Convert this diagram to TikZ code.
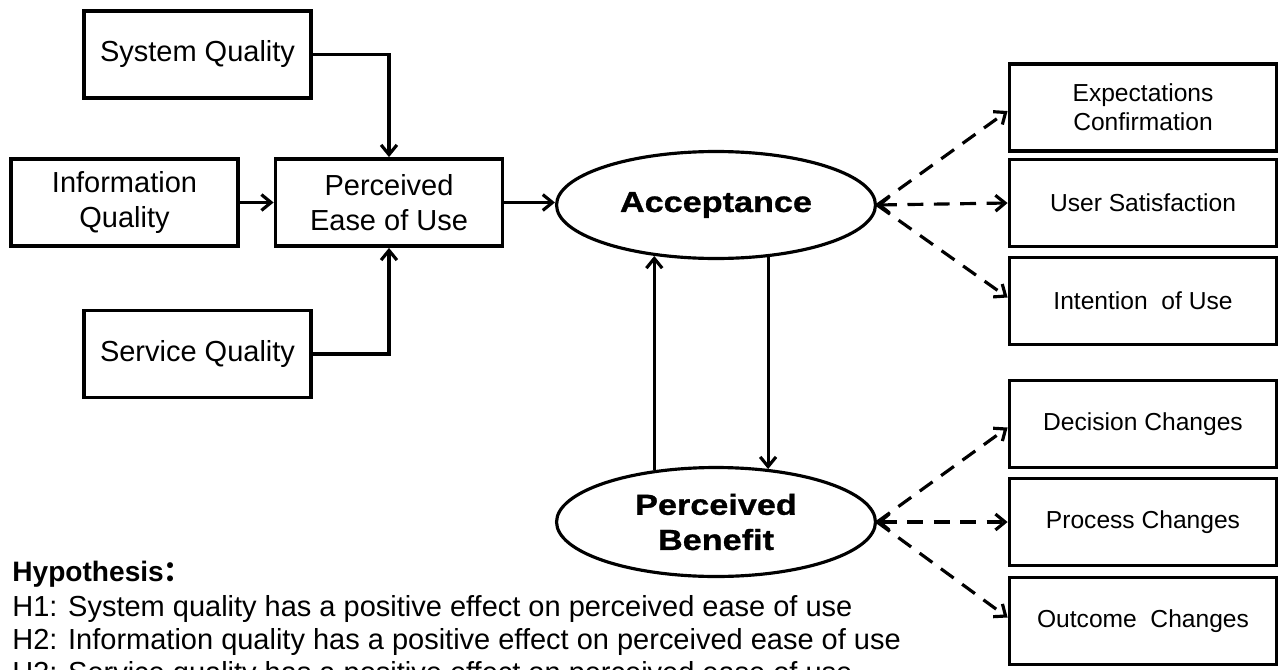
\documentclass[tikz,border=0pt]{standalone}
\usepackage{fontspec}
\setmainfont{Liberation Sans}
\newfontfamily\blackfont{Liberation Sans Bold}[FakeStretch=1.18,FakeBold=1]
\newfontfamily\cjkfont{Noto Sans CJK SC}
\usetikzlibrary{arrows.meta,shapes.geometric}
\begin{document}
\begin{tikzpicture}[x=0.02cm,y=-0.02cm,
  >={Straight Barb[length=5.5pt,width=9pt]},
  lbox/.style={draw,line width=2.2pt,minimum width=4.54cm,minimum height=1.74cm,inner sep=0pt,align=center,font=\fontsize{16.5}{20}\selectfont},
  rbox/.style={draw,line width=2.2pt,minimum width=5.34cm,minimum height=1.74cm,inner sep=0pt,align=center,font=\fontsize{14}{16.5}\selectfont},
  oval/.style={draw,ellipse,line width=1.8pt,inner sep=0pt,minimum width=6.38cm,align=center,font=\blackfont\fontsize{16.5}{20}\selectfont},
  link/.style={line width=1.8pt,->},
  dlink/.style={line width=1.8pt,->,dash pattern=on 9pt off 6pt},
  hyp/.style={anchor=base west,inner sep=0pt,font=\fontsize{16.5}{20}\selectfont}]
\useasboundingbox (0,0) rectangle (1280,669);
\clip (0,0) rectangle (1280,669);
% left boxes
\node[lbox] (sys) at (197.5,54.5) {System Quality};
\node[lbox] (info) at (124.5,202.5) {Information\\Quality};
\node[lbox] (peu) at (389,202.5) {Perceived\\Ease of Use};
\node[lbox] (serv) at (197.5,354) {Service Quality};
% ellipses
\node[oval,minimum height=2.14cm] (acc) at (716,205) {Acceptance};
\node[oval,minimum height=2.18cm] (pb) at (716,522) {Perceived\\Benefit};
% right boxes
\node[rbox] (exp) at (1143,107.5) {Expectations\\Confirmation};
\node[rbox] (us) at (1143,203) {User Satisfaction};
\node[rbox] (int) at (1143,301) {Intention\ \ of Use};
\node[rbox] (dec) at (1143,424) {Decision Changes};
\node[rbox] (proc) at (1143,522) {Process Changes};
\node[rbox] (out) at (1143,621) {Outcome\ \ Changes};
% connectors
\draw[link] (sys.east) -| (peu.north);
\draw[link] (info.east) -- (peu.west);
\draw[link] (serv.east) -| (peu.south);
\draw[link] (peu.east) -- (peu.east -| acc.west);
\draw[link] (pb.140.4) -- (pb.140.4 |- acc.-140.4);
\draw[link] (acc.-45.4) -- (acc.-45.4 |- pb.45.4);
% dashed
\draw[dlink,<->] (acc.east) -- (us.west);
\draw[dlink] (acc.east) -- ([yshift=-2pt]exp.west);
\draw[dlink] (acc.east) -- ([yshift=2pt]int.west);
\draw[dlink,<->] (pb.east) -- (proc.west);
\draw[dlink] (pb.east) -- ([yshift=-2pt]dec.west);
\draw[dlink] (pb.east) -- ([yshift=2pt]out.west);
% hypotheses
\node[hyp,font=\bfseries\fontsize{16}{20}\selectfont] (h0) at (12,581) {Hypothesis{\cjkfont ：}};
\node[hyp] (h1) at (12,616) {H1: System quality has a positive effect on perceived ease of use};
\node[hyp] (h2) at (12,649) {H2: Information quality has a positive effect on perceived ease of use};
\node[hyp] (h3) at (12,682) {H3: Service quality has a positive effect on perceived ease of use};
\end{tikzpicture}
\end{document}
